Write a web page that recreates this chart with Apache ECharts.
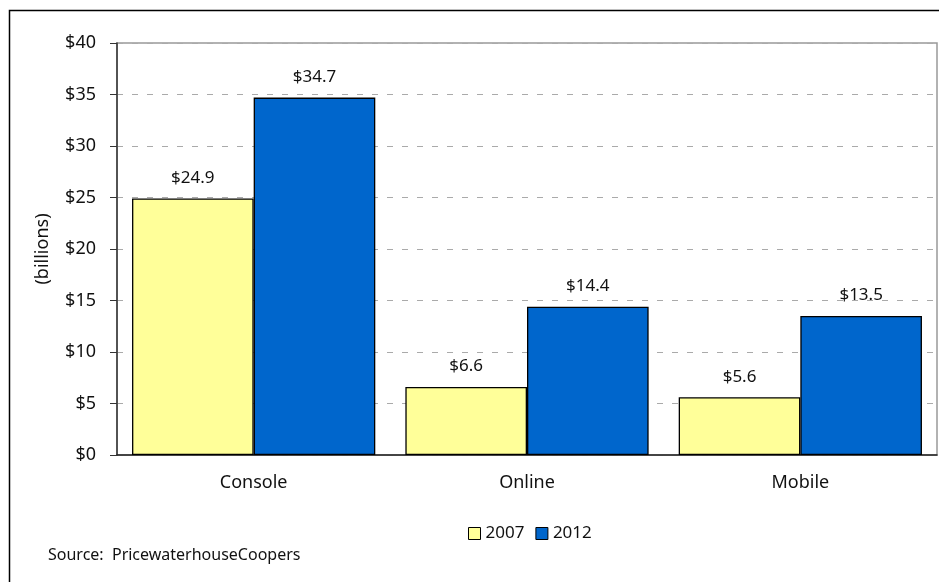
<!DOCTYPE html>
<html>
<head>
<meta charset="utf-8">
<script src="https://cdn.jsdelivr.net/npm/echarts@6/dist/echarts.min.js"></script>
<style>
  html, body { margin: 0; padding: 0; background: #fff; }
  #chart { width: 939px; height: 582px; }
</style>
</head>
<body>
<div id="chart"></div>
<script>
// Video game market segments, revenue in billions of US dollars
const categories = ['Console', 'Online', 'Mobile'];
const seriesNames = ['2007', '2012'];
const values2007 = [24.9, 6.6, 5.6];
const values2012 = [34.7, 14.4, 13.5];
const yTicks = { min: 0, max: 40, interval: 5 };
const sourceNote = 'Source:  PricewaterhouseCoopers';
const axisName = '(billions)';

const FONT = '"Noto Sans", "Open Sans", sans-serif';
const colors = ['#FFFF99', '#0066CC'];

const chart = echarts.init(document.getElementById('chart'), null, { renderer: 'canvas' });

function barSeries(name, data, color) {
  return {
    name: name,
    type: 'bar',
    data: data,
    barGap: '0%',
    barCategoryGap: '11%',
    itemStyle: { color: color, borderColor: '#000', borderWidth: 1.3 },
    label: {
      show: true,
      position: 'top',
      distance: 12,
      color: '#111',
      fontFamily: FONT,
      fontSize: 17,
      formatter: p => '$' + p.value.toFixed(1)
    }
  };
}

chart.setOption({
  animation: false,
  backgroundColor: '#fff',
  textStyle: { fontFamily: FONT },
  graphic: [
    {
      type: 'rect',
      shape: { x: 9.5, y: 10.5, width: 1000, height: 1000 },
      style: { fill: 'none', stroke: '#000', lineWidth: 1.5 },
      z: 100
    },
    {
      type: 'text',
      x: 48,
      y: 555,
      style: {
        text: sourceNote,
        fill: '#111',
        font: '16px ' + FONT,
        verticalAlign: 'middle'
      }
    }
  ],
  legend: {
    data: seriesNames,
    left: 463,
    top: 520,
    itemWidth: 12,
    itemHeight: 12,
    itemGap: 11,
    icon: 'rect',
    textStyle: { fontFamily: FONT, fontSize: 17, color: '#111' },
    itemStyle: { borderColor: '#000', borderWidth: 1 }
  },
  grid: {
    left: 117,
    right: 2,
    top: 43,
    bottom: 127,
    show: true,
    borderColor: '#999',
    borderWidth: 1.5,
    containLabel: false
  },
  xAxis: {
    type: 'category',
    data: categories,
    axisLine: { lineStyle: { color: '#222', width: 1.5 } },
    axisTick: { show: false },
    axisLabel: { color: '#111', fontFamily: FONT, fontSize: 18, margin: 19 }
  },
  yAxis: {
    type: 'value',
    min: yTicks.min,
    max: yTicks.max,
    interval: yTicks.interval,
    name: axisName,
    nameLocation: 'middle',
    nameGap: 65,
    nameRotate: 90,
    nameTextStyle: { color: '#111', fontFamily: FONT, fontSize: 18 },
    axisLine: { show: true, lineStyle: { color: '#333', width: 1.5 } },
    axisTick: { show: true, inside: false, length: 7, lineStyle: { color: '#333' } },
    axisLabel: {
      color: '#111',
      fontFamily: FONT,
      fontSize: 18,
      margin: 21,
      formatter: v => '$' + v
    },
    splitLine: { show: true, lineStyle: { color: '#aaaaaa', type: [6, 9], width: 1 } }
  },
  series: [
    barSeries(seriesNames[0], values2007, colors[0]),
    barSeries(seriesNames[1], values2012, colors[1])
  ]
});
</script>
</body>
</html>
